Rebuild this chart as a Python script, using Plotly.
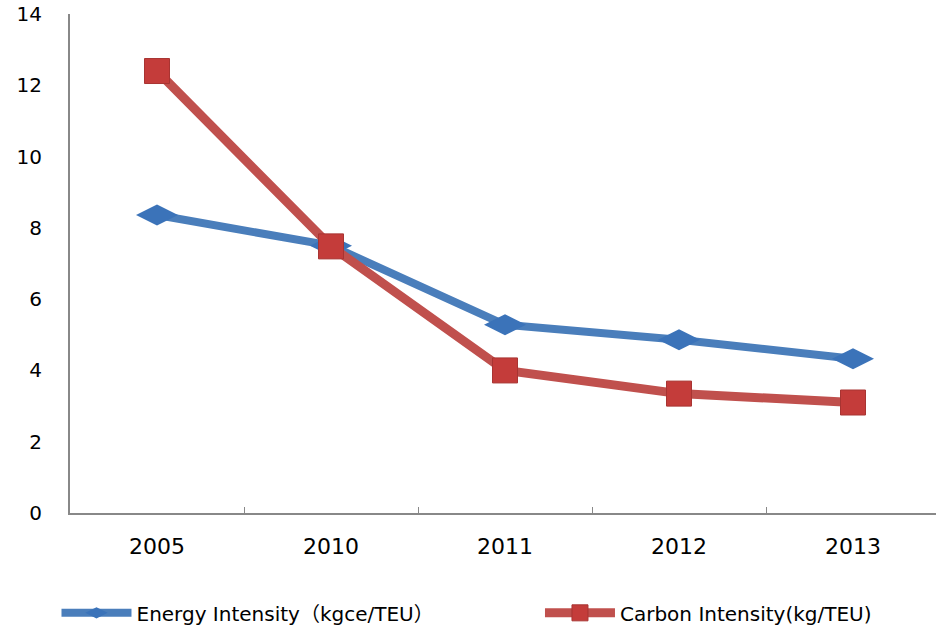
import plotly.graph_objects as go

years = ["2005", "2010", "2011", "2012", "2013"]
energy = [8.36, 7.50, 5.28, 4.86, 4.33]
carbon = [12.40, 7.48, 4.00, 3.35, 3.10]
y_ticks = [0, 2, 4, 6, 8, 10, 12, 14]

fig = go.Figure()
fig.add_trace(go.Scatter(
    x=years, y=energy, mode="lines+markers",
    name="Energy Intensity（kgce/TEU）",
    line=dict(color="#4a7ebb", width=8),
    marker=dict(symbol="diamond-wide", size=30, color="#3b73b9",
                line=dict(color="#3b73b9", width=0)),
    legend="legend",
))
fig.add_trace(go.Scatter(
    x=years, y=carbon, mode="lines+markers",
    name="Carbon Intensity(kg/TEU)",
    line=dict(color="#c0504d", width=9),
    marker=dict(symbol="square", size=25, color="#c43c3a",
                line=dict(color="#a83432", width=1)),
    legend="legend2",
))

legend_font = dict(family="DejaVu Sans, Noto Sans CJK SC", size=20, color="#000")
fig.update_layout(
    width=936, height=626,
    margin=dict(l=70, r=0, t=14, b=112.5, autoexpand=False),
    paper_bgcolor="white", plot_bgcolor="white",
    showlegend=True,
    legend=dict(orientation="h", x=-0.0156, y=-0.161, xanchor="left", yanchor="top",
                font=legend_font, itemwidth=70, bgcolor="rgba(0,0,0,0)"),
    legend2=dict(orientation="h", x=0.5427, y=-0.161, xanchor="left", yanchor="top",
                 font=legend_font, itemwidth=70, bgcolor="rgba(0,0,0,0)"),
    font=dict(family="DejaVu Sans", color="#000"),
)
fig.update_xaxes(
    type="category", range=[-0.5, 4.477],
    showline=True, linecolor="#888888", linewidth=2,
    ticks="inside", ticklen=6, tickcolor="#888888", tickson="boundaries",
    showgrid=False, zeroline=False,
    tickfont=dict(family="DejaVu Sans", size=22, color="#000"),
    ticklabelstandoff=13,
)
fig.update_yaxes(
    range=[0, 14], tickvals=y_ticks,
    showline=True, linecolor="#888888", linewidth=2,
    ticks="", showgrid=False, zeroline=False,
    tickfont=dict(family="DejaVu Sans", size=20, color="#000"),
    ticklabelstandoff=22, ticklabeloverflow="allow",
)
fig.write_html("out.html", config={"displayModeBar": False},
               post_script="document.body.style.margin='0px';")
